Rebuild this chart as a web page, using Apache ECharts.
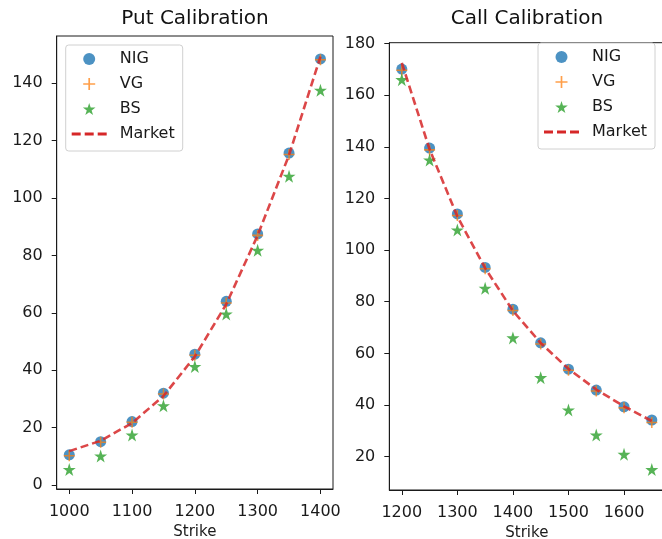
<!DOCTYPE html>
<html>
<head>
<meta charset="utf-8">
<script src="https://cdn.jsdelivr.net/npm/echarts@6/dist/echarts.min.js"></script>
<style>
html,body{margin:0;padding:0;background:#fff;}
#chart{width:662px;height:539px;}
</style>
</head>
<body>
<div id="chart"></div>
<script>
// ---- Data ----
const putStrikes = [1000, 1050, 1100, 1150, 1200, 1250, 1300, 1350, 1400];
const putNIG    = [10.5, 15.1, 22.1, 32.0, 45.6, 64.0, 87.5, 115.7, 148.5];
const putVG     = [10.2, 14.9, 21.9, 31.7, 45.2, 63.4, 87.0, 115.2, 148.2];
const putBS     = [5.4, 10.1, 17.4, 27.6, 41.3, 59.6, 81.8, 107.6, 137.6];
const putMarket = [11.8, 15.4, 21.6, 31.0, 44.8, 63.0, 87.0, 115.0, 149.3];

const callStrikes = [1200, 1250, 1300, 1350, 1400, 1450, 1500, 1550, 1600, 1650];
const callNIG    = [170.1, 139.5, 114.0, 93.3, 77.1, 64.1, 53.9, 45.8, 39.3, 34.2];
const callVG     = [169.6, 138.8, 113.4, 92.8, 76.6, 63.6, 53.5, 45.4, 38.9, 33.2];
const callBS     = [166.0, 134.9, 107.8, 85.2, 66.0, 50.6, 38.1, 28.4, 20.9, 15.0];
const callMarket = [172.5, 139.0, 113.0, 93.0, 76.5, 64.0, 54.0, 46.0, 39.5, 33.8];

const putXTicks  = [1000, 1100, 1200, 1300, 1400];
const putYTicks  = [0, 20, 40, 60, 80, 100, 120, 140];
const callXTicks = [1200, 1300, 1400, 1500, 1600];
const callYTicks = [20, 40, 60, 80, 100, 120, 140, 160, 180];

const seriesNames = ['NIG', 'VG', 'BS', 'Market'];
const titles = ['Put Calibration', 'Call Calibration'];

// ---- Styling ----
const C = {NIG:'#1f77b4', VG:'#ff7f0e', BS:'#2ca02c', Market:'#d62728'};
const FONT = 'DejaVu Sans';
const AX = '#1a1a1a';

function starPath() {
  const pts = [];
  for (let i = 0; i < 10; i++) {
    const r = (i % 2 === 0) ? 10 : 3.82;
    const a = -Math.PI / 2 + i * Math.PI / 5;
    pts.push((10 + r * Math.cos(a)).toFixed(2) + ',' + (10 + r * Math.sin(a)).toFixed(2));
  }
  return 'path://M' + pts.join('L') + 'Z';
}
const STAR = starPath();
const PLUS = 'path://M4.3,0h1.4v10h-1.4zM0,4.3h10v1.4h-10z';
const DASH = 'path://M0,0h9v3h-9zM13,0h9v3h-9zM26,0h9v3h-9z';

function pairs(xs, ys) { return xs.map((x, i) => [x, ys[i]]); }

function makeSeries(gi, xs, nig, vg, bs, mk) {
  return [
    {name:'NIG', type:'scatter', xAxisIndex:gi, yAxisIndex:gi, data:pairs(xs, nig),
     symbol:'circle', symbolSize:11, itemStyle:{color:C.NIG, opacity:0.8}, z:2},
    {name:'VG', type:'scatter', xAxisIndex:gi, yAxisIndex:gi, data:pairs(xs, vg),
     symbol:PLUS, symbolSize:11, itemStyle:{color:C.VG, opacity:0.75}, z:3},
    {name:'BS', type:'scatter', xAxisIndex:gi, yAxisIndex:gi, data:pairs(xs, bs),
     symbol:STAR, symbolSize:13, itemStyle:{color:C.BS}, z:3},
    {name:'Market', type:'line', xAxisIndex:gi, yAxisIndex:gi, data:pairs(xs, mk),
     showSymbol:false, symbol:'none', smooth:false,
     lineStyle:{color:C.Market, width:2.6, type:[8,4], opacity:0.85},
     itemStyle:{color:C.Market}, z:4}
  ];
}

function xAxisCfg(gi, min, max, ticks) {
  return {
    type:'value', gridIndex:gi, min:min, max:max,
    name:'Strike', nameLocation:'middle', nameGap:36,
    nameTextStyle:{fontFamily:FONT, fontSize:15, color:AX},
    axisLine:{show:true, onZero:false, lineStyle:{color:AX, width:1}},
    axisTick:{show:true, length:5, lineStyle:{color:AX}, customValues:ticks},
    axisLabel:{fontFamily:FONT, fontSize:16, color:AX, margin:15, customValues:ticks,
               formatter:(v) => String(v)},
    splitLine:{show:false}
  };
}
function yAxisCfg(gi, min, max, ticks) {
  return {
    type:'value', gridIndex:gi, min:min, max:max,
    axisLine:{show:true, onZero:false, lineStyle:{color:AX, width:1}},
    axisTick:{show:true, length:5, lineStyle:{color:AX}, customValues:ticks},
    axisLabel:{fontFamily:FONT, fontSize:16, color:AX, margin:14, customValues:ticks,
               formatter:(v) => String(v)},
    splitLine:{show:false}
  };
}

function legendCfg(left, top) {
  return {
    left:left, top:top, orient:'vertical',
    data:[
      {name:'NIG', icon:'circle', itemStyle:{color:C.NIG}},
      {name:'VG', icon:PLUS, itemStyle:{color:C.VG}},
      {name:'BS', icon:STAR, itemStyle:{color:C.BS}},
      {name:'Market', icon:DASH, itemStyle:{color:C.Market}}
    ],
    itemWidth:35, itemHeight:12, itemGap:9,
    padding:[6, 8, 9, 6],
    backgroundColor:'rgba(255,255,255,0.85)',
    borderColor:'#d0d0d0', borderWidth:1, borderRadius:3,
    selectedMode:false,
    textStyle:{fontFamily:FONT, fontSize:16, color:AX, lineHeight:16, padding:[0,0,0,8]}
  };
}

const chart = echarts.init(document.getElementById('chart'), null, {renderer:'canvas'});
chart.setOption({
  backgroundColor:'#fff',
  animation:false,
  title:[
    {text:titles[0], left:195, top:9, textAlign:'center', padding:0,
     textStyle:{fontFamily:FONT, fontSize:20, fontWeight:'normal', color:'#111'}},
    {text:titles[1], left:527, top:9, textAlign:'center', padding:0,
     textStyle:{fontFamily:FONT, fontSize:20, fontWeight:'normal', color:'#111'}}
  ],
  grid:[
    {left:56.7, top:36, width:276.3, height:453, show:true, borderColor:AX, borderWidth:1,
     backgroundColor:'transparent', containLabel:false, outerBoundsMode:'none'},
    {left:389.3, top:42.7, width:275, height:447.3, show:true, borderColor:AX, borderWidth:1,
     backgroundColor:'transparent', containLabel:false, outerBoundsMode:'none'}
  ],
  xAxis:[xAxisCfg(0, 980, 1420, putXTicks), xAxisCfg(1, 1177.5, 1672.5, callXTicks)],
  yAxis:[yAxisCfg(0, -1.4, 156.5, putYTicks), yAxisCfg(1, 7.1, 180.3, callYTicks)],
  legend:[legendCfg(65.7, 45), legendCfg(538, 43)],
  series:[].concat(
    makeSeries(0, putStrikes, putNIG, putVG, putBS, putMarket),
    makeSeries(1, callStrikes, callNIG, callVG, callBS, callMarket)
  )
});
</script>
</body>
</html>
